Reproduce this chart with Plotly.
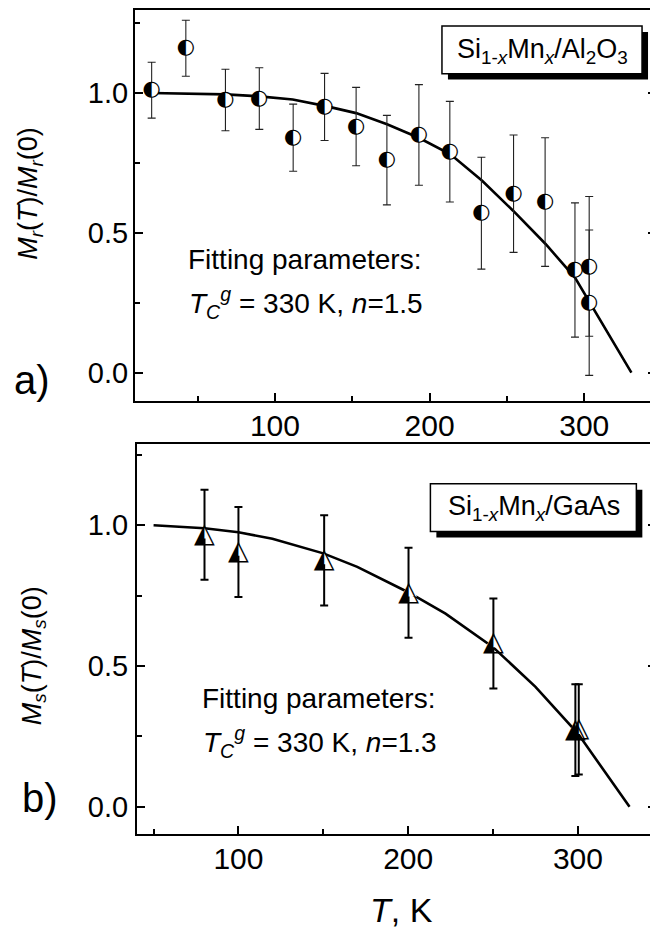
import plotly.graph_objects as go

# ---------------- data ----------------
# panel a) Si1-xMnx/Al2O3, remanent magnetization
T_a = [20.3, 42.4, 68.0, 89.9, 111.8, 132.1, 152.5, 172.4, 193.1, 213.1, 233.5, 254.3, 274.7, 294.0, 303.2, 303.2]
M_a = [1.01, 1.16, 0.975, 0.98, 0.84, 0.95, 0.88, 0.76, 0.85, 0.79, 0.57, 0.64, 0.61, 0.367, 0.38, 0.25]
E_a = [0.10, 0.10, 0.11, 0.11, 0.12, 0.12, 0.14, 0.16, 0.18, 0.18, 0.20, 0.21, 0.23, 0.24, 0.25, 0.26]
Tfit_a = [20, 68, 90, 111.5, 133, 152.5, 172.5, 193, 213.5, 234, 254, 275, 294, 303, 330.5]
Mfit_a = [1.0, 0.995, 0.988, 0.977, 0.953, 0.928, 0.888, 0.84, 0.781, 0.686, 0.579, 0.46, 0.34, 0.257, 0.0]

# panel b) Si1-xMnx/GaAs, saturation magnetization
T_b = [80, 100, 150.5, 200.2, 250.2, 298.5, 300.5]
M_b = [0.966, 0.905, 0.875, 0.76, 0.58, 0.272, 0.275]
E_b = [0.16, 0.16, 0.16, 0.16, 0.16, 0.163, 0.16]
Tfit_b = [50, 80, 100, 120, 150, 170, 200, 222, 250, 275, 300, 330.4]
Mfit_b = [1.0, 0.989, 0.975, 0.952, 0.90, 0.852, 0.762, 0.686, 0.567, 0.426, 0.26, 0.0]

x_ticks = [100, 200, 300]
y_ticks = [0.0, 0.5, 1.0]
y_ticklabels = ["0.0", "0.5", "1.0"]

# the page body has an 8 px margin: the figure is sized so it fills the 658x934 window
OFF = 8
W, H = 658 - OFF, 934 - OFF
FONT = "Liberation Sans, Arial, sans-serif"
SYM = "DejaVu Sans"


def px(x):
    return (x - OFF) / W


def py(y):
    return 1 - (y - OFF) / H


fig = go.Figure()

# panel a
fig.add_trace(go.Scatter(x=Tfit_a, y=Mfit_a, mode="lines", line=dict(color="black", width=2.6),
                         xaxis="x", yaxis="y", showlegend=False))
fig.add_trace(go.Scatter(x=T_a, y=M_a, mode="markers+text", text=["◐"] * len(T_a),
                         textposition="middle center",
                         textfont=dict(family=SYM, size=21, color="black"),
                         marker=dict(symbol="circle", size=14, color="white", line=dict(width=0)),
                         error_y=dict(type="data", array=E_a, visible=True, color="#222222",
                                      thickness=1.1, width=4),
                         xaxis="x", yaxis="y", showlegend=False))

# panel b
fig.add_trace(go.Scatter(x=Tfit_b, y=Mfit_b, mode="lines", line=dict(color="black", width=2.6),
                         xaxis="x2", yaxis="y2", showlegend=False))
fig.add_trace(go.Scatter(x=T_b, y=M_b, mode="markers+text", text=["◭"] * len(T_b),
                         textposition="middle center",
                         textfont=dict(family=SYM, size=27, color="black"),
                         marker=dict(symbol="triangle-up", size=15, color="white", line=dict(width=0)),
                         error_y=dict(type="data", array=E_b, visible=True, color="black",
                                      thickness=2, width=4),
                         xaxis="x2", yaxis="y2", showlegend=False))

# empty traces so the label-only y axes exist
fig.add_trace(go.Scatter(x=[], y=[], xaxis="x", yaxis="y3", showlegend=False))
fig.add_trace(go.Scatter(x=[], y=[], xaxis="x2", yaxis="y4", showlegend=False))

axis_common = dict(showline=True, linecolor="black", linewidth=2, mirror=True,
                   ticks="inside", ticklen=8, tickwidth=1.5, tickcolor="black",
                   showgrid=False, zeroline=False)
minor_x = dict(dtick=50, tick0=0, ticks="inside", ticklen=5, tickwidth=1.5, tickcolor="black")
minor_y = dict(dtick=0.25, tick0=0, ticks="inside", ticklen=5, tickwidth=1.5, tickcolor="black")
label_axis = dict(showline=False, ticks="", showgrid=False, zeroline=False,
                  tickvals=y_ticks, ticktext=y_ticklabels,
                  tickfont=dict(size=29, family=FONT), anchor="free", side="left")

fig.update_layout(
    width=W, height=H,
    margin=dict(l=0, r=0, t=0, b=0),
    paper_bgcolor="white", plot_bgcolor="white",
    font=dict(family=FONT, color="black"),
    xaxis=dict(domain=[px(135.5), 1.0], range=[9.6, 346.4], tickvals=x_ticks,
               tickfont=dict(size=30, family=FONT), ticklabelstandoff=-3,
               minor=minor_x, anchor="y", **axis_common),
    yaxis=dict(domain=[py(400), py(9.5)], range=[-0.1, 1.295], tickvals=y_ticks,
               showticklabels=False,
               minor=minor_y, anchor="x", **{**axis_common, "mirror": "ticks"}),
    yaxis3=dict(overlaying="y", range=[-0.1, 1.295], position=px(128.5), **label_axis),
    xaxis2=dict(domain=[px(137), 1.0], range=[40, 346], tickvals=x_ticks,
                tickfont=dict(size=30, family=FONT), ticklabelstandoff=-3,
                minor=minor_x, anchor="y2", **axis_common),
    yaxis2=dict(domain=[py(834), py(443.3)], range=[-0.097, 1.289], tickvals=y_ticks,
                showticklabels=False,
                minor=minor_y, anchor="x2", **{**axis_common, "mirror": "ticks"}),
    yaxis4=dict(overlaying="y2", range=[-0.097, 1.289], position=px(128.5), **label_axis),
)

# legend-like boxes with shadow
shapes = []
for (x0, y0, x1, y1) in [(443.3, 25, 644, 72.7), (431.7, 483.3, 638.3, 531)]:
    shapes.append(dict(type="rect", xref="paper", yref="paper",
                       x0=px(x0 + 6), x1=px(x1 + 6), y0=py(y1 + 6), y1=py(y0 + 6),
                       fillcolor="black", line=dict(width=0)))
    shapes.append(dict(type="rect", xref="paper", yref="paper",
                       x0=px(x0), x1=px(x1), y0=py(y1), y1=py(y0),
                       fillcolor="white", line=dict(color="black", width=1.5)))
fig.update_layout(shapes=shapes)


def ann(text, x, y, size, xanchor="center", yanchor="middle", angle=0):
    fig.add_annotation(text=text, x=px(x), y=py(y), xref="paper", yref="paper",
                       xanchor=xanchor, yanchor=yanchor, showarrow=False, textangle=angle,
                       font=dict(size=size, family=FONT, color="black"))


ann("Si<sub>1-<i>x</i></sub>Mn<sub><i>x</i></sub>/Al<sub>2</sub>O<sub>3</sub>", 544, 50, 27)
ann("Si<sub>1-<i>x</i></sub>Mn<sub><i>x</i></sub>/GaAs", 536, 508, 27)

ann("Fitting parameters:", 187, 258.3, 28, xanchor="left")
ann("<i>T</i><sub><i>C</i></sub><sup><i>g</i></sup> = 330 K, <i>n</i>=1.5", 188, 302, 28, xanchor="left")
ann("Fitting parameters:", 201, 698.6, 28, xanchor="left")
ann("<i>T</i><sub><i>C</i></sub><sup><i>g</i></sup> = 330 K, <i>n</i>=1.3", 202, 742, 28, xanchor="left")

ann("<i>M</i><sub><i>r</i></sub>(<i>T</i>)/<i>M</i><sub><i>r</i></sub>(0)", 30, 192, 27, angle=-90)
ann("<i>M</i><sub><i>s</i></sub>(<i>T</i>)/<i>M</i><sub><i>s</i></sub>(0)", 34, 655, 27, angle=-90)

ann("a)", 12, 379.4, 40, xanchor="left")
ann("b)", 20, 797.8, 40, xanchor="left")
ann("<i>T</i>, K", 403, 910, 34)

fig.write_html("out.html")
